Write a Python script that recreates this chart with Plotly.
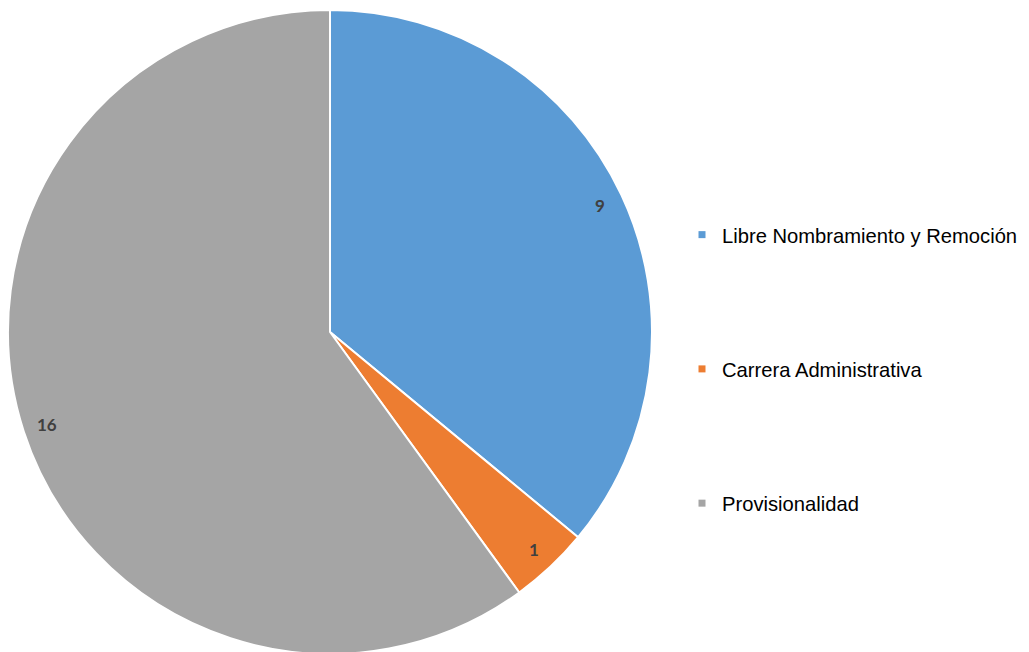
import numpy as np
import plotly.graph_objects as go

labels = ['Libre Nombramiento y Remoción', 'Carrera Administrativa', 'Provisionalidad']
# slice sizes as drawn in the picture (angles measure 9 : 1 : 15)
values = [9, 1, 15]
# data labels as printed on the slices
value_labels = ['9', '1', '16']
colors = ['#5B9BD5', '#ED7D31', '#A5A5A5']

# the html body has an 8px margin, so positions are shifted by it
OFF = 8
W, H = 1029 - OFF, 648
cx_px, cy_px = 330 - OFF, 332 - OFF
half = min(cx_px, H - cy_px, cy_px)

fig = go.Figure()

fig.add_trace(go.Pie(
    labels=labels,
    values=values,
    sort=False,
    direction='clockwise',
    rotation=0,
    marker=dict(colors=colors, line=dict(color='white', width=2)),
    textinfo='none',
    hoverinfo='label+value',
    showlegend=False,
    domain=dict(x=[(cx_px - half) / W, (cx_px + half) / W],
                y=[1 - (cy_px + half) / H, 1 - (cy_px - half) / H]),
))

# legend entries as dummy traces so the items can be spaced out
for i, (lab, col) in enumerate(zip(labels, colors)):
    fig.add_trace(go.Scatter(
        x=[None], y=[None], mode='markers', name=lab,
        marker=dict(symbol='square', size=7, color=col),
        legendgroup=f'g{i}', showlegend=True,
    ))

# data labels near the outer edge of each slice
total = sum(values)
cum = np.cumsum([0] + values)
annotations = []
for i, v in enumerate(values):
    mid = (cum[i] + v / 2) / total * 2 * np.pi
    rr = 322 * 0.925
    px_ = cx_px + rr * np.sin(mid)
    py_ = cy_px - rr * np.cos(mid)
    annotations.append(dict(
        x=px_ / W, y=1 - py_ / H, xref='paper', yref='paper',
        xanchor='center', yanchor='middle',
        text=f'<b>{value_labels[i]}</b>', showarrow=False,
        font=dict(family='Lato, DejaVu Sans, sans-serif', size=17, color='#404040'),
    ))

fig.update_layout(
    width=W, height=H,
    margin=dict(l=0, r=0, t=0, b=0),
    paper_bgcolor='white',
    plot_bgcolor='white',
    xaxis=dict(visible=False),
    yaxis=dict(visible=False),
    annotations=annotations,
    legend=dict(
        x=(682 - OFF) / W, xanchor='left',
        y=1 - (369 - OFF) / H, yanchor='middle',
        font=dict(family='Liberation Sans, Arial, sans-serif', size=20.2, color='#000000'),
        traceorder='grouped',
        tracegroupgap=105,
        bgcolor='rgba(0,0,0,0)',
    ),
)

fig.write_html("out.html")
